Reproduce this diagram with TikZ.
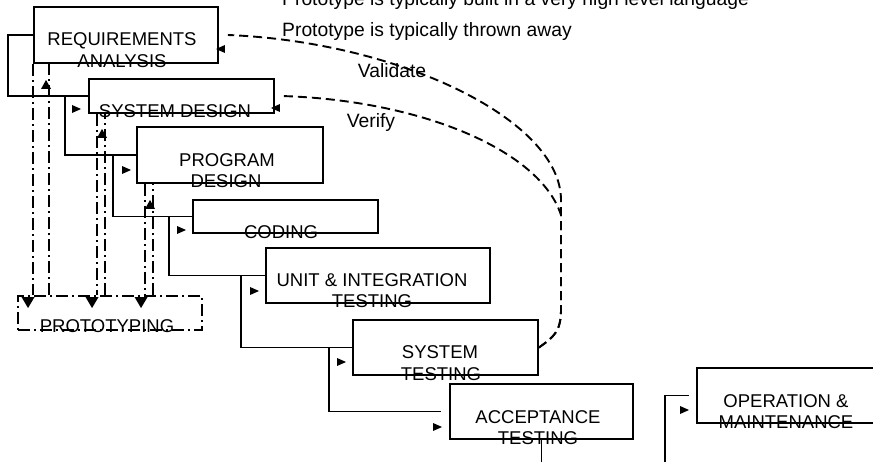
\documentclass[tikz,border=0pt]{standalone}
\usepackage{fontspec}
\setmainfont{Liberation Sans}
\usetikzlibrary{calc}
\newcommand\mytriR[1]{\fill (#1) ++(-4,-4) -- ++(0,8) -- ++(9,-4) -- cycle;}
\newcommand\mytriL[1]{\fill (#1) -- ++(9,-4) -- ++(0,8) -- cycle;}
\newcommand\mytriD[1]{\fill (#1) -- ++(-6.5,-11) -- ++(13,0) -- cycle;}
\newcommand\mytriU[1]{\fill (#1) -- ++(-5,9) -- ++(10,0) -- cycle;}
\begin{document}
\begin{tikzpicture}[x=1pt,y=-1pt,
  box/.style={draw, line width=1.9pt, inner sep=0pt},
  conn/.style={line width=1.9pt},
  fb/.style={line width=1.9pt, dash pattern=on 9pt off 5pt},
  proto/.style={line width=1.9pt, dash pattern=on 12pt off 4pt on 2pt off 4pt},
  lbl/.style={inner sep=0pt, anchor=base, font=\fontsize{18.5}{22}\selectfont},
  note/.style={inner sep=0pt, font=\fontsize{19.3}{23}\selectfont},
]
\fill[white] (0,0) rectangle (873,462);
\useasboundingbox (0,0) rectangle (873,462);
\clip (0,0) rectangle (873,462);

% boxes
\node[box, minimum width=184pt, minimum height=56pt] (req) at (126,35) {};
\node[box, minimum width=185pt, minimum height=34pt] (sysdes) at (181.5,96) {};
\node[box, minimum width=186pt, minimum height=56pt] (progdes) at (230,155) {};
\node[box, minimum width=185pt, minimum height=33pt] (coding) at (285.5,216.5) {};
\node[box, minimum width=224pt, minimum height=55pt] (unit) at (378,275.5) {};
\node[box, minimum width=185pt, minimum height=55pt] (systest) at (445.5,347.5) {};
\node[box, minimum width=183pt, minimum height=55pt] (accept) at (541.5,411.5) {};
\node[box, minimum width=186pt, minimum height=55pt] (op) at (790,395.5) {};
\node[draw, proto, inner sep=0pt, minimum width=184pt, minimum height=34pt] (proto) at (110,313) {};

% labels
\node[lbl] (reqt1) at (122,46) {REQUIREMENTS};
\node[lbl] (reqt2) at (122,68) {ANALYSIS};
\node[lbl] (sysdest) at (175,118) {SYSTEM DESIGN};
\node[lbl] (progt1) at (227,167) {PROGRAM};
\node[lbl] (progt2) at (226,188) {DESIGN};
\node[lbl] (codt) at (281,239) {CODING};
\node[lbl] (unitt1) at (372,287) {UNIT \& INTEGRATION};
\node[lbl] (unitt2) at (372,308) {TESTING};
\node[lbl] (stt1) at (440,359) {SYSTEM};
\node[lbl] (stt2) at (441,380) {TESTING};
\node[lbl] (act1) at (538,423) {ACCEPTANCE};
\node[lbl] (act2) at (538,444) {TESTING};
\node[lbl] (opt1) at (786,407) {OPERATION \&};
\node[lbl] (opt2) at (786,428) {MAINTENANCE};
\node[lbl] (prott) at (107,333) {PROTOTYPING};

\node[note, anchor=base west] (n1) at (282,6) {Prototype is typically built in a very high level language};
\node[note, anchor=base west] (n2) at (282,37) {Prototype is typically thrown away};
\node[note, anchor=base] (val) at (392,78) {Validate};
\node[note, anchor=base] (ver) at (371,128) {Verify};

% waterfall connectors
\draw[conn] (req.west) -- ++(-25,0) |- (sysdes.west);
\draw[conn] (sysdes.west) -- ++(-23,0) |- (progdes.west);
\draw[conn] (progdes.west) -- ++(-23,0) |- (coding.west);
\draw[conn] (coding.west) -- ++(-23,0) |- (unit.west);
\draw[conn] (unit.west) -- ++(-24,0) |- (systest.west);
\draw[conn] (systest.west) -- ++(-23,0) |- ($(accept.west)+(-8,0)$);
\draw[conn] (accept.south) -- ++(0,40) -| ($(op.west)+(-31,0)$) -- ($(op.west)+(-7,0)$);

\mytriR{$(sysdes.west)+(-12,13)$}
\mytriR{$(progdes.west)+(-10,15)$}
\mytriR{$(coding.west)+(-11,13.5)$}
\mytriR{$(unit.west)+(-11,15.5)$}
\mytriR{$(systest.west)+(-11,14.5)$}
\mytriR{$(accept.west)+(-12,15.5)$}
\mytriR{$(op.west)+(-12,14.5)$}

% validate / verify
\draw[fb] (systest.east) .. controls +(14,-10) and (561,332) .. (561,310) -- (561,200)
  .. controls (561,120) and (400,42) .. ($(req.east)+(9,0)$);
\draw[fb] (systest.east) .. controls +(14,-10) and (561,332) .. (561,310) -- (561,215)
  .. controls (540,150) and (420,100) .. ($(sysdes.east)+(6,0)$);
\mytriL{$(req.east)+(-3,14)$}
\mytriL{$(sysdes.east)+(-4,12)$}

% prototyping lines
\coordinate (d1) at (req.south west);
\coordinate (u1) at ($(req.south west)+(16,0)$);
\coordinate (d2) at ($(sysdes.south west)+(9,0)$);
\coordinate (u2) at ($(sysdes.south west)+(17,0)$);
\coordinate (d3) at ($(progdes.south west)+(9,0)$);
\coordinate (u3) at ($(progdes.south west)+(17,0)$);
\draw[proto] (d1) -- (d1 |- proto.north);
\draw[proto] (u1 |- proto.north) -- (u1);
\draw[proto] (d2) -- (d2 |- proto.north);
\draw[proto] (u2 |- proto.north) -- (u2);
\draw[proto] (d3) -- (d3 |- proto.north);
\draw[proto] (u3 |- proto.north) -- (u3);
\mytriD{$(d1 |- proto.north)+(-5,13)$}
\mytriD{$(d2 |- proto.north)+(-5,13)$}
\mytriD{$(d3 |- proto.north)+(-4,13)$}
\mytriU{$(u1)+(-3,16)$}
\mytriU{$(u2)+(-3,15)$}
\mytriU{$(u3)+(-3,16)$}
\end{tikzpicture}
\end{document}
